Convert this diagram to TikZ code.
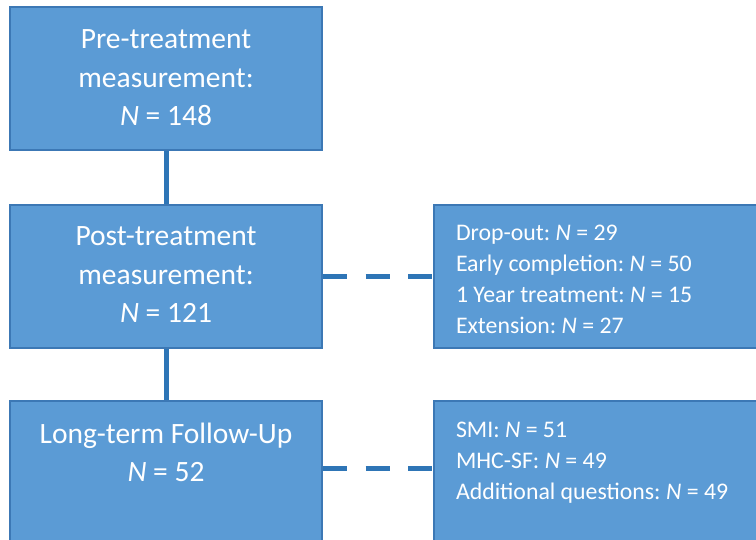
\documentclass[tikz,border=0pt]{standalone}
\usepackage{fontspec}
\setmainfont{Carlito}
\frenchspacing
\usetikzlibrary{positioning}
\definecolor{boxfill}{HTML}{5B9BD5}
\definecolor{boxline}{HTML}{3C78B5}
\definecolor{linkblue}{HTML}{2E75B6}

\tikzset{
  stage/.style={draw=boxline, fill=boxfill, line width=2pt, text=white,
    align=flush center, text width=312pt, inner sep=0pt, minimum height=143pt,
    text height=20pt, text depth=79pt,
    font=\fontsize{29.5}{38.5}\selectfont},
  detail/.style={stage, align=flush left, anchor=west, minimum width=347pt,
    text width=303pt, inner xsep=22pt, text depth=91.6pt,
    font=\fontsize{23.8}{31}\selectfont},
  solidlink/.style={line width=5pt, draw=linkblue},
  dashlink/.style={solidlink, dash pattern=on 24pt off 18.5pt}
}

\begin{document}
\begin{tikzpicture}[x=1pt,y=-1pt]
  \useasboundingbox (0,0) rectangle (756,540);
  \clip (0,0) rectangle (756,540);

  % left column
  \node[stage] (pre)  at (166,78.5)  {Pre-treatment\\measurement:\\\textit{N} = 148};
  \node[stage, text depth=81pt] (post) at (166,276.5) {Post-treatment\\measurement:\\\textit{N} = 121};
  \node[stage] (fu)   at (166,472.5) {Long-term Follow-Up\\\textit{N} = 52};

  % right column
  \node[detail] (drop) at (433,276.5) {Drop-out: \textit{N} = 29\\Early completion: \textit{N} = 50\\1 Year treatment: \textit{N} = 15\\Extension: \textit{N} = 27};
  \node[detail, text depth=89pt] (smi) at (433,472.5) {SMI: \textit{N} = 51\\MHC-SF: \textit{N} = 49\\Additional questions: \textit{N} = 49};

  \draw[solidlink] (pre) -- (post);
  \draw[solidlink] (post) -- (fu);

  \draw[dashlink] (post.east) -- (drop.west);
  \draw[dashlink] ([yshift=4.5pt]fu.east) -- ([yshift=4.5pt]fu.east -| smi.west);
\end{tikzpicture}
\end{document}
